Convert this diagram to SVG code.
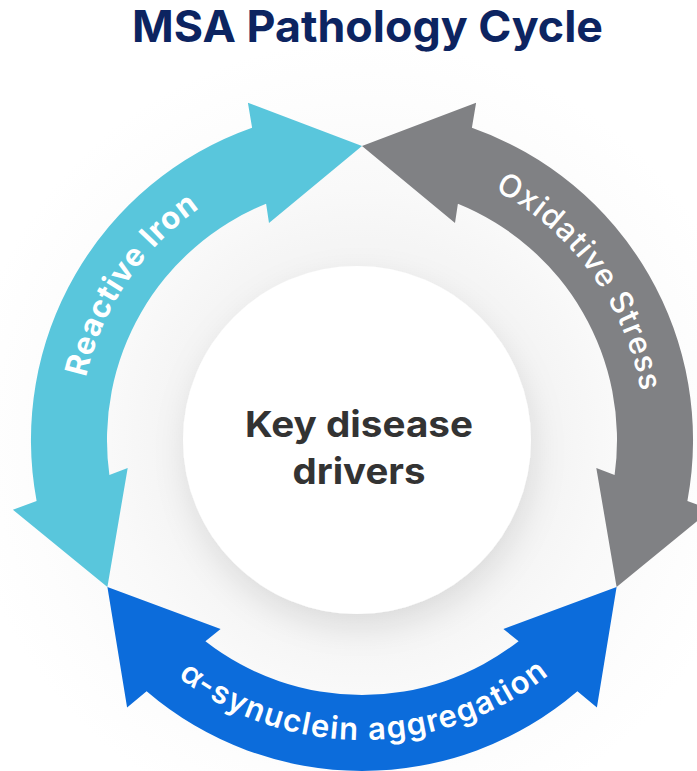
<svg xmlns="http://www.w3.org/2000/svg" width="697" height="771" viewBox="0 0 697 771">
  <style>
    .title { font-family: "Inter", "Liberation Sans", sans-serif; font-weight: 700; font-size: 44px; fill: #0c2461; }
    .center { font-family: "Inter", "Liberation Sans", sans-serif; font-weight: 700; font-size: 36px; fill: #333333; }
    .lbl { font-family: "Inter", "Liberation Sans", sans-serif; fill: #ffffff; font-size: 31px; }
    .cyan { fill: #59c6dc; }
    .gray { fill: #808184; }
    .blue { fill: #0c6cdb; }
  </style>
  <defs>
    <radialGradient id="bgGrad" cx="362" cy="440" r="400" gradientUnits="userSpaceOnUse">
      <stop offset="0" stop-color="#f3f3f3"/>
      <stop offset="0.5" stop-color="#f5f5f5"/>
      <stop offset="0.63" stop-color="#f9f9f9"/>
      <stop offset="0.85" stop-color="#fdfdfd"/>
      <stop offset="1" stop-color="#ffffff"/>
    </radialGradient>
    <filter id="shadow" x="-30%" y="-30%" width="160%" height="160%">
      <feDropShadow dx="3" dy="12" stdDeviation="16" flood-color="#000000" flood-opacity="0.11"/>
    </filter>
    <path id="tpCyan" d="M116.9,581.5 A283,283 0 0 1 362,157"/>
    <path id="tpGray" d="M362,157 A283,283 0 0 1 607.1,581.5"/>
    <path id="tpBlue" d="M102.2,590 A300,300 0 0 0 621.8,590"/>
  </defs>

  <rect x="0" y="0" width="697" height="771" fill="#ffffff"/>
  <g id="background">
    <circle cx="362" cy="440" r="400" fill="url(#bgGrad)"/>
  </g>

  <g id="title">
    <text class="title" x="367.5" y="42" text-anchor="middle" textLength="471" lengthAdjust="spacingAndGlyphs">MSA Pathology Cycle</text>
  </g>

  <g id="center-node">
    <circle cx="357" cy="440" r="174" fill="#ffffff" filter="url(#shadow)"/>
    <text class="center" x="359" y="437" text-anchor="middle" textLength="228" lengthAdjust="spacingAndGlyphs">Key disease</text>
    <text class="center" x="359" y="484" text-anchor="middle" textLength="133" lengthAdjust="spacingAndGlyphs">drivers</text>
  </g>

  <g id="connectors">
    <path id="arrow-reactive-iron" class="cyan" d="M107.4,587 L12.9,509.7 L36.6,500.9 A331,331 0 0 1 252.1,127.8 L247.9,102.8 L362,146 L269,223.1 L266.1,203.7 A255,255 0 0 0 109.4,475 L127.7,467.9 Z"/>
    <path id="arrow-oxidative-stress" class="gray" d="M362,146 L476.1,102.8 L471.9,127.8 A331,331 0 0 1 687.4,500.9 L711.1,509.7 L616.6,587 L596.3,467.9 L614.6,475 A255,255 0 0 0 457.9,203.7 L455,223.1 Z"/>
    <path id="arrow-synuclein" class="blue" d="M616.6,587 L596.9,707.5 L577.4,691.3 A331,331 0 0 1 146.6,691.3 L127.1,707.5 L107.4,587 L220.6,629 L205.4,641.2 A255,255 0 0 0 518.6,641.2 L503.4,629 Z"/>
  </g>

  <g id="node-reactive-iron">
    <text class="lbl" font-weight="700" letter-spacing="0.9"><textPath href="#tpCyan" startOffset="53.3%" text-anchor="middle">Reactive Iron</textPath></text>
  </g>
  <g id="node-oxidative-stress">
    <text class="lbl" font-weight="500" letter-spacing="1.1"><textPath href="#tpGray" startOffset="45.1%" text-anchor="middle">Oxidative Stress</textPath></text>
  </g>
  <g id="node-synuclein">
    <text class="lbl" font-weight="600" letter-spacing="1.45"><textPath href="#tpBlue" startOffset="50.4%" text-anchor="middle">α-synuclein aggregation</textPath></text>
  </g>
</svg>
